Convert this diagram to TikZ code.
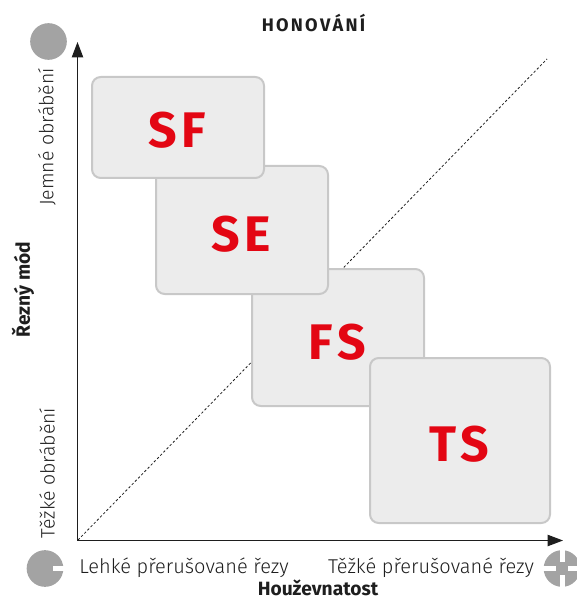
\documentclass[tikz,border=0pt]{standalone}
\usepackage{fontspec}
\setmainfont{Fira Sans}
\newfontfamily\lightfont{Fira Sans Light}
\usetikzlibrary{arrows.meta}
\definecolor{boxfill}{HTML}{ECECEC}
\definecolor{boxline}{HTML}{C8C8C8}
\definecolor{tred}{HTML}{E30613}
\definecolor{disc}{HTML}{A3A3A3}
\definecolor{ink}{HTML}{1E1E1E}
\tikzset{
  grade/.style={draw=boxline,fill=boxfill,line width=1.5pt,rounded corners=6.5,inner sep=0pt,outer sep=0pt,anchor=north west},
  gradetext/.style={text=tred,font=\fontsize{37.5}{38}\selectfont\bfseries,inner sep=0pt},
  axislab/.style={text=ink,font=\fontsize{15}{16}\lightfont,inner sep=0pt},
  vertlab/.style={text=ink,font=\fontsize{14.6}{16}\lightfont,inner sep=0pt,rotate=90},
  axistitle/.style={text=ink,font=\fontsize{14.4}{15}\selectfont\bfseries,inner sep=0pt},
  axisline/.style={draw=ink,line width=0.8pt,-{Triangle[length=11.5pt,width=8.5pt]}},
  disc/.style={circle,fill=disc,minimum size=27.5pt,inner sep=0pt,outer sep=0pt},
  notch/.style={fill=white,inner sep=0pt,outer sep=0pt}
}
\begin{document}
\begin{tikzpicture}[x=0.75pt,y=-0.75pt]
\useasboundingbox (0,0) rectangle (576,598);
\coordinate (o) at (77.5,540.5);
\coordinate (top) at (77.5,42);
\coordinate (right) at (563,540.5);
\coordinate (dstart) at (78,540);
\coordinate (dend) at (547,59);
\draw[dash pattern=on 1.8pt off 1.6pt,draw=ink,line width=0.6pt] (dstart) -- (dend);
\node[grade,minimum width=129pt,minimum height=102.75pt] (fs) at (252,269) {};
\node[grade,minimum width=135pt,minimum height=123.75pt] (ts) at (370,358) {};
\node[grade,minimum width=129pt,minimum height=96pt] (se) at (156,166) {};
\node[grade,minimum width=129pt,minimum height=75.75pt] (sf) at (92,77) {};
\node[gradetext] (sft) at (177,130.5) {S\kern3.4pt F};
\node[gradetext] (set) at (241,234.5) {S\kern3.4pt E};
\node[gradetext] (fst) at (337.5,342) {F\kern3.4pt S};
\node[gradetext] (tst) at (459.5,444) {T\kern3.4pt S};
\draw[axisline] (o) -- (top);
\draw[axisline] (o) -- (right);
\node[disc] (d1) at (48.5,41.5) {};
\node[disc] (d2) at (45,568.5) {};
\node[notch,minimum width=8.5pt,minimum height=3.75pt] (n2) at (58.5,568.5) {};
\node[disc] (d3) at (562,568.5) {};
\node[notch,minimum width=3.75pt,minimum height=28.5pt] (n3a) at (562,568.5) {};
\node[notch,minimum width=28.5pt,minimum height=3.75pt] (n3b) at (562,568.5) {};
\node[fill=disc,minimum size=9.5pt,inner sep=0pt,outer sep=0pt] (d3c) at (562,568.5) {};
\node[axistitle,font=\fontsize{13.6}{15}\selectfont\bfseries] (t) at (313.5,23) {H\kern1.7pt O\kern1.7pt N\kern1.7pt O\kern1.7pt V\kern1.7pt Á\kern1.7pt N\kern1.7pt Í};
\node[axislab] (l1) at (184,568) {Lehké přerušované řezy};
\node[axislab] (l2) at (431,568) {Těžké přerušované řezy};
\node[axistitle] (l3) at (318,587.5) {Houževnatost};
\node[vertlab] (l4) at (47,137) {Jemné obrábění};
\node[vertlab] (l5) at (47,473) {Těžké obrábění};
\node[axistitle,rotate=90] (l6) at (23,289.5) {Řezný mód};
\end{tikzpicture}
\end{document}
